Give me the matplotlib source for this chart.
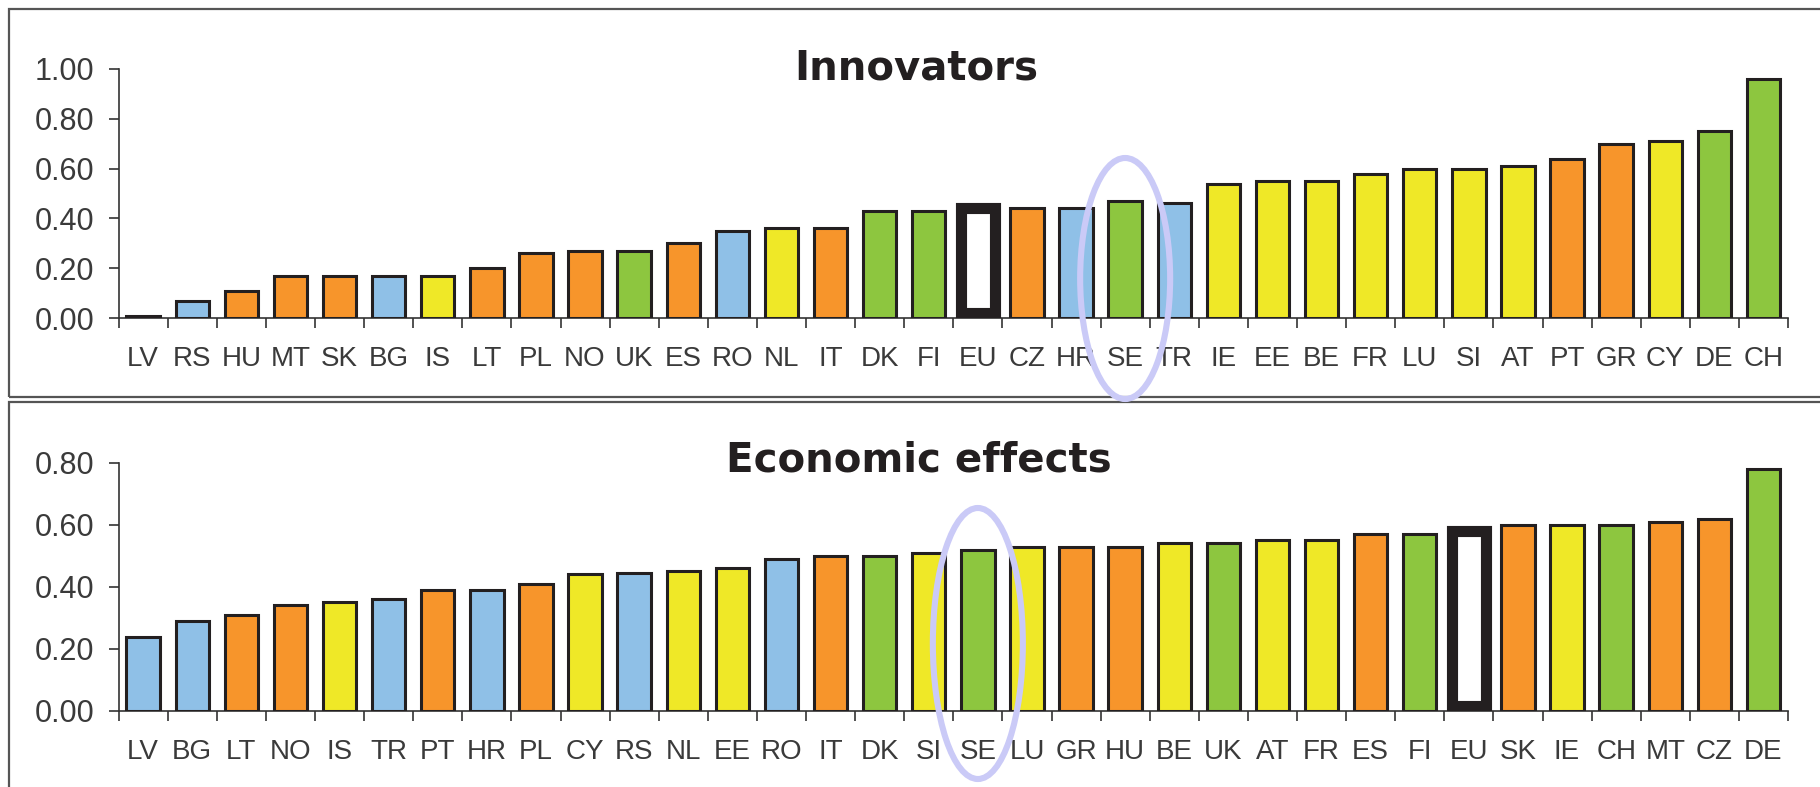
import matplotlib
matplotlib.use("Agg")
import matplotlib.pyplot as plt
from matplotlib.patches import Rectangle, Ellipse
from matplotlib.transforms import blended_transform_factory
import numpy as np

# ---------------- data ----------------
innov_labels = ["LV", "RS", "HU", "MT", "SK", "BG", "IS", "LT", "PL", "NO", "UK", "ES",
                "RO", "NL", "IT", "DK", "FI", "EU", "CZ", "HR", "SE", "TR", "IE", "EE",
                "BE", "FR", "LU", "SI", "AT", "PT", "GR", "CY", "DE", "CH"]
innov_values = [0.01, 0.07, 0.11, 0.17, 0.17, 0.17, 0.17, 0.20, 0.26, 0.27, 0.27, 0.30,
                0.35, 0.36, 0.36, 0.43, 0.43, 0.44, 0.44, 0.44, 0.47, 0.46, 0.54, 0.55,
                0.55, 0.58, 0.60, 0.60, 0.61, 0.64, 0.70, 0.71, 0.75, 0.96]
innov_groups = ["b", "b", "o", "o", "o", "b", "y", "o", "o", "o", "g", "o",
                "b", "y", "o", "g", "g", "eu", "o", "b", "g", "b", "y", "y",
                "y", "y", "y", "y", "y", "o", "o", "y", "g", "g"]

econ_labels = ["LV", "BG", "LT", "NO", "IS", "TR", "PT", "HR", "PL", "CY", "RS", "NL",
               "EE", "RO", "IT", "DK", "SI", "SE", "LU", "GR", "HU", "BE", "UK", "AT",
               "FR", "ES", "FI", "EU", "SK", "IE", "CH", "MT", "CZ", "DE"]
econ_values = [0.24, 0.29, 0.31, 0.34, 0.35, 0.36, 0.39, 0.39, 0.41, 0.44, 0.445, 0.45,
               0.46, 0.49, 0.50, 0.50, 0.51, 0.52, 0.53, 0.53, 0.53, 0.54, 0.54, 0.55,
               0.55, 0.57, 0.57, 0.58, 0.60, 0.60, 0.60, 0.61, 0.62, 0.78]
econ_groups = ["b", "b", "o", "o", "y", "b", "o", "b", "o", "y", "b", "y",
               "y", "b", "o", "g", "y", "g", "y", "o", "o", "y", "g", "y",
               "y", "o", "g", "eu", "o", "y", "g", "o", "o", "g"]

innov_ticks = [0.0, 0.2, 0.4, 0.6, 0.8, 1.0]
econ_ticks = [0.0, 0.2, 0.4, 0.6, 0.8]

colors = {"b": "#8fc0e7", "o": "#f7952b", "y": "#efe827", "g": "#8dc63f", "eu": "#ffffff"}
EDGE = "#231f20"
TXT = "#3a3a3a"

W, H = 1820, 787
fig = plt.figure(figsize=(W / 100, H / 100), dpi=100)


def fx(px):
    return px / W


def fy(py):
    return 1 - py / H


# panel frames
fig.patches.append(Rectangle((fx(8.5), fy(397)), 1.2, fy(8.5) - fy(397), transform=fig.transFigure,
                             fill=False, edgecolor="#555555", lw=1.6))
fig.patches.append(Rectangle((fx(8.5), fy(830)), 1.2, fy(402) - fy(830), transform=fig.transFigure,
                             fill=False, edgecolor="#555555", lw=1.6))


def draw_panel(rect, labels, values, groups, ticks, ymax, title, title_xy, title_font, ell):
    ax = fig.add_axes(rect)
    x = np.arange(len(labels))
    for xi, v, g in zip(x, values, groups):
        if g == "eu":
            ppd = rect[3] * H / ymax  # pixels per data unit
            inset = 5.5 / ppd
            ax.bar(xi, v - inset, bottom=inset, width=0.69, color="white", edgecolor=EDGE,
                   linewidth=8, zorder=3)
        else:
            ax.bar(xi, v, width=0.68, color=colors[g], edgecolor=EDGE, linewidth=2.2, zorder=3)
    ax.set_xlim(-0.5, len(labels) - 0.5)
    ax.set_ylim(0, ymax)
    ax.set_yticks(ticks)
    ax.set_yticklabels([f"{t:.2f}" for t in ticks], fontsize=22, color=TXT,
                       family="Liberation Sans")
    ax.set_xticks(x)
    ax.set_xticklabels(labels, fontsize=20, color=TXT, family="Liberation Sans")
    ax.set_xticks(np.arange(len(labels) + 1) - 0.5, minor=True)
    ax.tick_params(axis="x", which="major", length=0, pad=20)
    ax.tick_params(axis="x", which="minor", length=7.5, width=1.2, color="#333333", direction="out")
    ax.tick_params(axis="y", length=7.5, width=1.2, color="#333333", pad=10)
    for s in ["top", "right"]:
        ax.spines[s].set_visible(False)
    for s in ["left", "bottom"]:
        ax.spines[s].set_color("#333333")
        ax.spines[s].set_linewidth(1.2)
    ax.set_facecolor("none")
    fig.text(title_xy[0], title_xy[1], title, ha="center", va="baseline", fontsize=29,
             fontweight="bold", color=EDGE, family=title_font)
    # highlight ellipse around SE
    idx = labels.index("SE")
    tr = blended_transform_factory(ax.transData, fig.transFigure)
    cx_pix, cy_pix, w_pix, h_pix = ell
    wd = w_pix / (rect[2] * W / len(labels))
    e = Ellipse((idx, fy(cy_pix)), wd, h_pix / H, transform=tr, fill=False,
                edgecolor="#cacaf7", lw=4.4, zorder=10, clip_on=False)
    fig.patches.append(e)
    return ax


left = fx(118.6)
width = fx(1788) - left
ax1 = draw_panel([left, fy(318), width, 249 / H], innov_labels, innov_values, innov_groups,
                 innov_ticks, 1.0, "Innovators", (fx(916), fy(79)), "DejaVu Sans",
                 (1125, 278.5, 90, 241))
ax2 = draw_panel([left, fy(711), width, 248.3 / H], econ_labels, econ_values, econ_groups,
                 econ_ticks, 0.8, "Economic effects", (fx(919), fy(471.5)), "DejaVu Sans",
                 (979, 643.5, 90, 271))

fig.savefig("out.png", dpi=100, facecolor="white")
